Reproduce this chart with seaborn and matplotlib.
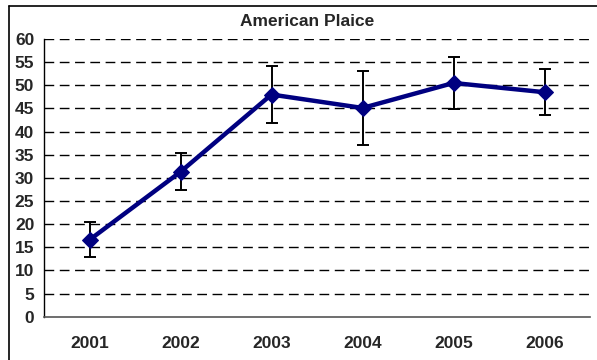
import matplotlib
matplotlib.use("Agg")
import matplotlib.pyplot as plt
import seaborn as sns
import pandas as pd
from matplotlib.lines import Line2D

years = ["2001", "2002", "2003", "2004", "2005", "2006"]
means = [16.6, 31.3, 48.0, 45.1, 50.5, 48.5]
err_low = [12.9, 27.4, 41.9, 37.2, 44.8, 43.6]
err_high = [20.4, 35.4, 54.1, 53.0, 56.2, 53.5]
y_ticks = [0, 5, 10, 15, 20, 25, 30, 35, 40, 45, 50, 55, 60]
title = "American Plaice"

sns.set_style("white")
plt.rcParams["font.family"] = ["Liberation Sans", "DejaVu Sans"]

W, H = 597, 360
fig = plt.figure(figsize=(W / 100, H / 100), dpi=100)
ax = fig.add_axes([44 / W, 1 - 316.7 / H, (590 - 44) / W, (316.7 - 39) / H])

pos = list(range(len(years)))
df = pd.DataFrame({"pos": pos, "mean": means})

lo = [m - l for m, l in zip(means, err_low)]
hi = [h - m for m, h in zip(means, err_high)]
ax.errorbar(pos, means, yerr=[lo, hi], fmt="none", ecolor="black",
            elinewidth=1.4, capsize=4.3, capthick=1.4, zorder=3)

sns.lineplot(data=df, x="pos", y="mean", ax=ax, color="#000080",
             linewidth=3.2, marker="D", markersize=8.5,
             markeredgecolor="#000080", zorder=4)

ax.set_xlim(-0.5, len(years) - 0.5)
ax.set_ylim(0, 60)
ax.set_yticks(y_ticks)
ax.set_yticklabels([str(t) for t in y_ticks], fontsize=12.5, fontweight="bold")
ax.set_xticks(pos)
ax.set_xticklabels(years, fontsize=12.5, fontweight="bold")
ax.set_xticks([p - 0.5 for p in range(len(years) + 1)], minor=True)
ax.tick_params(axis="x", which="major", length=0, pad=14)
ax.tick_params(axis="x", which="minor", length=5, width=1, color="#555555", direction="out")
ax.tick_params(axis="y", which="major", length=5, width=1, color="black", direction="out", pad=2)
ax.set_xlabel("")
ax.set_ylabel("")

for t in y_ticks[1:]:
    ax.axhline(t, color="black", linewidth=1, linestyle=(0, (7, 4)), zorder=1)

for s in ["top", "right"]:
    ax.spines[s].set_visible(False)
ax.spines["left"].set_color("black")
ax.spines["left"].set_linewidth(1)
ax.spines["bottom"].set_color("#555555")
ax.spines["bottom"].set_linewidth(1.2)

fig.text(307 / W, 1 - 22 / H, title, ha="center", va="center",
         fontsize=12.5, fontweight="bold")

fig.add_artist(Line2D([8.5 / W, 8.5 / W], [0, 1 - 6 / H], transform=fig.transFigure,
                      color="black", linewidth=1.2))
fig.add_artist(Line2D([8.5 / W, 1], [1 - 6 / H, 1 - 6 / H], transform=fig.transFigure,
                      color="black", linewidth=1.2))

fig.savefig("out.png", dpi=100, facecolor="white")
